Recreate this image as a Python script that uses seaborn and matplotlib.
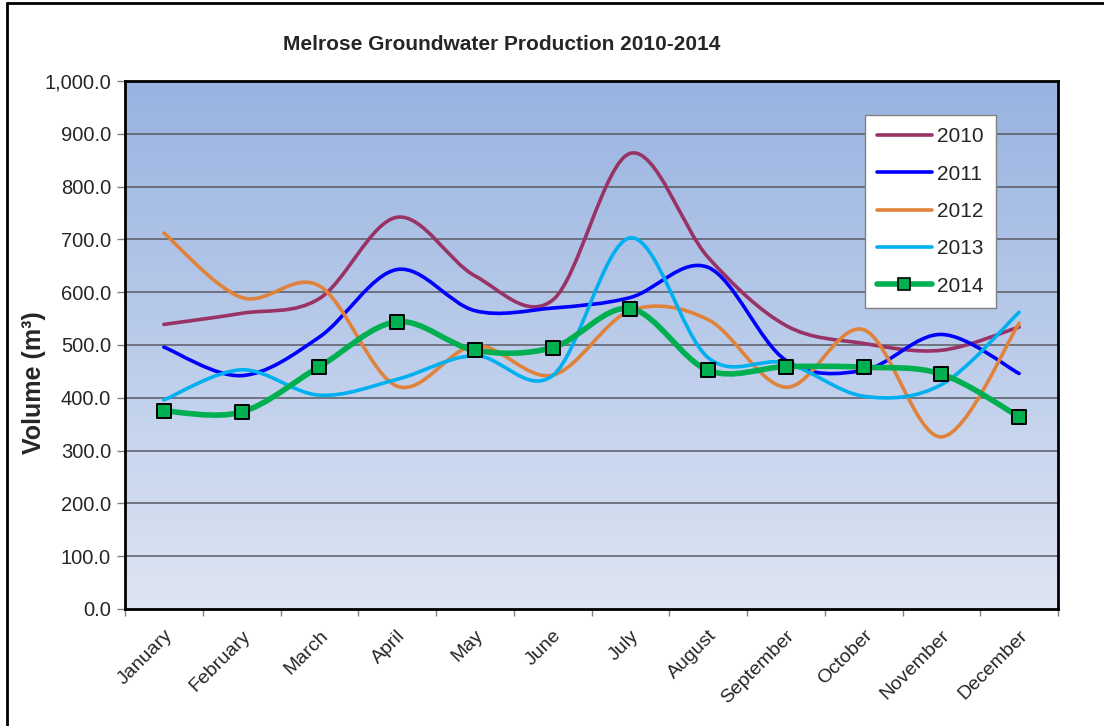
import numpy as np
import pandas as pd
import matplotlib
matplotlib.use("Agg")
import matplotlib.pyplot as plt
import seaborn as sns
from matplotlib.path import Path
from matplotlib.patches import PathPatch
from matplotlib.lines import Line2D

# Données (m3)
months = ["January", "February", "March", "April", "May", "June", "July",
          "August", "September", "October", "November", "December"]
years = ["2010", "2011", "2012", "2013", "2014"]
v2010 = [539, 560, 588, 742, 631, 585, 863, 666, 537, 503, 490, 534]
v2011 = [496, 442, 515, 643, 565, 570, 590, 647, 471, 452, 520, 446]
v2012 = [712, 590, 612, 422, 499, 443, 565, 548, 420, 529, 326, 541]
v2013 = [396, 453, 405, 435, 480, 442, 703, 476, 466, 403, 425, 562]
v2014 = [375, 373, 459, 544, 490, 495, 569, 452, 459, 458, 445, 364]
colors = ["#993366", "#0000FF", "#E0823A", "#00B0F0", "#00B050"]

df = pd.DataFrame({"Month": months, "2010": v2010, "2011": v2011,
                   "2012": v2012, "2013": v2013, "2014": v2014})
df["pos"] = np.arange(len(months)) + 0.5

sns.set_theme(style="white")
plt.rcParams["font.family"] = ["Liberation Sans", "DejaVu Sans"]

fig = plt.figure(figsize=(11.04, 7.26), dpi=100)
ax = fig.add_axes([125 / 1104, 1 - 609 / 726, 933 / 1104, 528 / 726])


def smooth_path(x, y):
    # courbe lissée façon Excel (Bézier cubique, type Catmull-Rom)
    px = np.concatenate([[x[0]], x, [x[-1]]])
    py = np.concatenate([[y[0]], y, [y[-1]]])
    verts = [(x[0], y[0])]
    codes = [Path.MOVETO]
    for i in range(1, len(px) - 2):
        c1 = (px[i] + (px[i + 1] - px[i - 1]) / 6, py[i] + (py[i + 1] - py[i - 1]) / 6)
        c2 = (px[i + 1] - (px[i + 2] - px[i]) / 6, py[i + 1] - (py[i + 2] - py[i]) / 6)
        verts += [c1, c2, (px[i + 1], py[i + 1])]
        codes += [Path.CURVE4] * 3
    return Path(verts, codes)


# fond dégradé
grad = np.linspace(0, 1, 256).reshape(-1, 1)
top = np.array([152, 179, 225]) / 255
bot = np.array([222, 229, 243]) / 255
img = top + (bot - top) * grad[..., None]
ax.imshow(img, extent=[0, 1, 0, 1], transform=ax.transAxes, aspect="auto", zorder=0)

for yv in range(100, 1001, 100):
    ax.axhline(yv, color="#5a5a64", lw=1.1, zorder=1)

widths = [2.6, 2.6, 2.6, 2.6, 4.0]
for yr, c, lw in zip(years, colors, widths):
    p = smooth_path(df["pos"].values, df[yr].values.astype(float))
    ax.add_patch(PathPatch(p, facecolor="none", edgecolor=c, lw=lw,
                           capstyle="round", joinstyle="round", zorder=3))

sns.scatterplot(data=df, x="pos", y="2014", marker="s", s=110, color=colors[4],
                edgecolor="black", linewidth=1.4, zorder=5, ax=ax, legend=False)

ax.set_xlim(0, 12)
ax.set_ylim(0, 1000)
ax.set_xticks(df["pos"])
ax.set_xticklabels(months, rotation=45, ha="right", va="top", rotation_mode="anchor",
                   fontsize=14)
ax.set_xticks(np.arange(0, 13), minor=True)
ax.tick_params(axis="x", which="major", length=0, pad=13)
ax.tick_params(axis="x", which="minor", length=5, width=1, color="#808080", direction="out")
ax.set_yticks(np.arange(0, 1001, 100))
ax.set_yticklabels([f"{v:,.1f}" for v in range(0, 1001, 100)], fontsize=14.5)
ax.tick_params(axis="y", length=6, width=1, color="#808080", direction="out", pad=4)
ax.tick_params(axis="both", which="both", bottom=True, left=True)
ax.set_xlabel("")
ax.set_ylabel("")
for s in ax.spines.values():
    s.set_color("black")
    s.set_linewidth(2)
    s.set_zorder(6)

handles = [Line2D([], [], color=c, lw=lw) for c, lw in zip(colors[:4], widths[:4])]
handles.append(Line2D([], [], color=colors[4], lw=4.0, marker="s", markersize=9,
                      markerfacecolor=colors[4], markeredgecolor="black", markeredgewidth=1.2))
leg = ax.legend(handles, years, loc="upper left", bbox_to_anchor=(0.793, 0.936),
                borderaxespad=0, fontsize=15, frameon=True, fancybox=False,
                handlelength=2.6, handletextpad=0.25, labelspacing=0.88, borderpad=0.6)
leg.get_frame().set_edgecolor("#808080")
leg.get_frame().set_linewidth(1.0)
leg.get_frame().set_facecolor("white")
leg.get_frame().set_alpha(1)
leg.set_zorder(7)

fig.text(502 / 1104, 1 - 44 / 726, "Melrose Groundwater Production 2010-2014",
         ha="center", va="center", fontsize=15, fontweight="bold")
fig.text(34 / 1104, 1 - 383 / 726, "Volume (m³)", ha="center", va="center",
         rotation=90, fontsize=18, fontweight="bold")

# cadre de la zone graphique
fig.add_artist(Line2D([7 / 1104, 7 / 1104], [0, 1 - 3 / 726], color="black", lw=2,
                      transform=fig.transFigure))
fig.add_artist(Line2D([7 / 1104, 1], [1 - 3 / 726, 1 - 3 / 726], color="black", lw=2,
                      transform=fig.transFigure))

fig.savefig("out.png", dpi=100)
